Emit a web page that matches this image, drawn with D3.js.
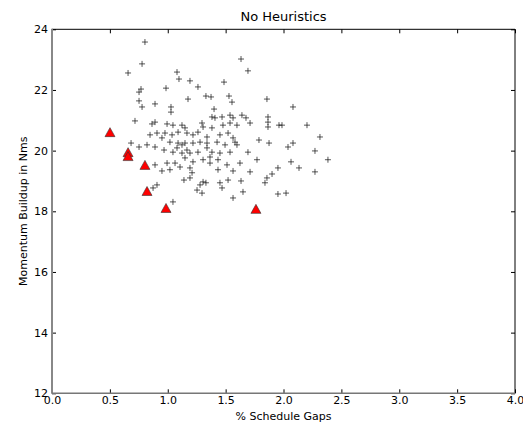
<!DOCTYPE html>
<html><head><meta charset="utf-8">
<script src="https://cdn.jsdelivr.net/npm/d3@7"></script>
<style>html,body{margin:0;padding:0;background:#fff;}svg{display:block;}</style>
</head><body>
<svg id="chart" width="523" height="422"></svg>
<script>
const title = "No Heuristics";
const xLabel = "% Schedule Gaps";
const yLabel = "Momentum Buildup in Nms";
const xTicks = [0.0,0.5,1.0,1.5,2.0,2.5,3.0,3.5,4.0];
const yTicks = [12,14,16,18,20,22,24];

// plus markers (schedules)
const plusX = [0.803,0.778,0.657,1.080,1.097,0.985,0.769,0.752,0.752,0.890,0.778,1.028,1.028,1.633,1.693,1.192,1.261,1.486,1.175,1.330,1.374,1.529,1.555,1.857,1.400,2.082,
0.890,0.864,1.045,0.994,1.123,1.149,1.296,1.305,1.382,1.408,1.469,1.538,1.564,1.641,1.676,1.382,1.477,1.538,1.598,1.711,0.847,0.907,0.976,1.037,1.089,1.166,1.218,1.261,1.339,1.451,1.521,1.564,
0.821,0.950,1.019,1.089,1.123,1.149,1.218,1.279,1.339,1.426,1.495,1.581,1.598,0.968,1.045,1.166,1.192,1.261,1.339,1.382,1.451,1.538,1.693,1.149,1.218,1.305,1.365,1.106,1.192,1.512,1.624,1.771,
0.717,0.683,0.752,0.890,1.080,1.123,0.890,0.950,0.994,1.019,1.063,1.140,0.907,0.873,1.045,
1.434,1.434,1.564,1.365,1.210,1.192,1.305,1.279,1.451,1.469,1.521,1.633,1.253,1.296,1.650,1.564,1.857,1.840,1.330,1.711,1.901,
1.866,1.866,1.866,1.961,1.987,2.203,2.315,1.788,1.875,2.039,2.082,2.272,2.384,2.065,2.134,2.272,1.952,1.952,2.022];
const plusY = [23.58,22.86,22.56,22.59,22.36,22.06,22.03,21.93,21.64,21.54,21.44,21.44,21.27,23.02,22.63,22.30,22.10,22.26,21.70,21.80,21.77,21.80,21.60,21.70,21.37,21.44,
20.94,20.88,20.84,20.88,20.84,20.75,20.91,20.78,21.11,21.08,21.11,21.17,21.08,21.17,21.08,20.75,20.84,20.91,20.84,20.91,20.52,20.58,20.58,20.52,20.61,20.58,20.52,20.61,20.45,20.52,20.58,20.42,
20.19,20.42,20.28,20.25,20.19,20.25,20.25,20.28,20.25,20.28,20.19,20.28,20.19,20.02,19.95,20.02,19.92,19.95,20.09,19.95,19.92,19.95,19.95,19.76,19.63,19.70,19.59,19.46,19.43,19.53,19.59,19.70,
20.98,20.25,20.12,20.12,20.09,19.92,19.53,19.33,19.59,19.37,19.59,19.03,18.87,18.77,18.31,
19.70,19.37,19.33,19.79,19.27,19.10,18.97,18.87,18.94,18.77,19.03,19.00,18.70,18.60,18.64,18.44,19.10,18.94,18.94,19.30,19.23,
21.11,20.94,20.78,20.84,20.84,20.84,20.45,20.35,20.25,20.12,20.25,19.99,19.70,19.63,19.43,19.30,19.43,18.57,18.60];

// triangle markers
const triX = [0.501,0.657,0.657,0.803,0.821,0.985,1.762];
const triY = [20.61,19.95,19.82,19.53,18.67,18.11,18.08];

const svg = d3.select("#chart");
const L = 52, R = 515, T = 29.3, B = 393.3;
const x = d3.scaleLinear().domain([0,4]).range([L,R]);
const y = d3.scaleLinear().domain([12,24]).range([B,T]);
const font = "DejaVu Sans, sans-serif";

// markers
const gp = svg.append("g").attr("stroke","#111").attr("stroke-width",1).attr("stroke-opacity",0.7);
plusX.forEach((vx,i)=>{
  const cx = x(vx), cy = y(plusY[i]), s = 3;
  gp.append("path").attr("d",`M${cx-s},${cy}H${cx+s}M${cx},${cy-s}V${cy+s}`);
});
const tw = 10, th = 9;
triX.forEach((vx,i)=>{
  const cx = x(vx), cy = y(triY[i]);
  svg.append("path")
    .attr("d",`M${cx},${cy-th/2}L${cx+tw/2},${cy+th/2}L${cx-tw/2},${cy+th/2}Z`)
    .attr("fill","#ff0000").attr("stroke","#333").attr("stroke-width",0.6);
});

// axes
const xAxisB = d3.axisBottom(x).tickValues(xTicks).tickFormat(d3.format(".1f")).tickSizeInner(-4).tickSizeOuter(0).tickPadding(3);
const xAxisT = d3.axisTop(x).tickValues(xTicks).tickFormat("").tickSizeInner(-4).tickSizeOuter(0);
const yAxisL = d3.axisLeft(y).tickValues(yTicks).tickFormat(d3.format("d")).tickSizeInner(-4).tickSizeOuter(0).tickPadding(4);
const yAxisR = d3.axisRight(y).tickValues(yTicks).tickFormat("").tickSizeInner(-4).tickSizeOuter(0);

function style(g){
  g.select(".domain").remove();
  g.selectAll("line").attr("stroke","#000").attr("stroke-width",1);
  g.selectAll("text").attr("font-family",font).attr("font-size",11).attr("fill","#000");
}
svg.append("g").attr("transform",`translate(0,${B})`).call(xAxisB).call(style);
svg.append("g").attr("transform",`translate(0,${T})`).call(xAxisT).call(style);
svg.append("g").attr("transform",`translate(${L},0)`).call(yAxisL).call(style);
svg.append("g").attr("transform",`translate(${R},0)`).call(yAxisR).call(style);

// spines
svg.append("line").attr("x1",L).attr("x2",R).attr("y1",T).attr("y2",T).attr("stroke","#000").attr("stroke-width",1);
svg.append("line").attr("x1",R).attr("x2",R).attr("y1",T).attr("y2",B).attr("stroke","#000").attr("stroke-width",1);
svg.append("line").attr("x1",L).attr("x2",L).attr("y1",T-0.5).attr("y2",B+0.5).attr("stroke","#888").attr("stroke-width",2);
svg.append("line").attr("x1",L).attr("x2",R).attr("y1",B).attr("y2",B).attr("stroke","#777").attr("stroke-width",1.5);

// labels
svg.append("text").attr("x",(L+R)/2).attr("y",21).attr("text-anchor","middle")
  .attr("font-family",font).attr("font-size",13).text(title);
svg.append("text").attr("x",(L+R)/2).attr("y",420).attr("text-anchor","middle")
  .attr("font-family",font).attr("font-size",11).text(xLabel);
svg.append("text").attr("transform",`translate(27,${(T+B)/2}) rotate(-90)`).attr("text-anchor","middle")
  .attr("font-family",font).attr("font-size",11).text(yLabel);
</script>
</body></html>
